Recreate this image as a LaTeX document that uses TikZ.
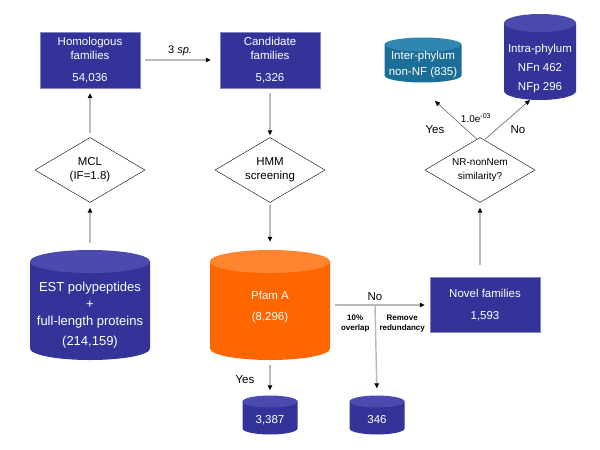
\documentclass[tikz,border=0pt]{standalone}
\usepackage{fontspec}
\setmainfont{Liberation Sans}
\usetikzlibrary{shapes.geometric, arrows.meta, positioning, calc}
\definecolor{famblue}{HTML}{333399}
\definecolor{famtop}{HTML}{4B4BAE}
\definecolor{pforange}{HTML}{FF6600}
\definecolor{pftop}{HTML}{FF8430}
\definecolor{teal1}{HTML}{1B6E98}
\definecolor{teal2}{HTML}{2F86B0}
\newcommand{\dbtext}[2]{\raisebox{#1}[0pt][0pt]{\begin{tabular}{@{}c@{}}#2\end{tabular}}} % lowers the text below the top of a cylinder
\tikzset{
    >={Triangle[length=5pt, width=4.5pt, color=black]}, % black arrow heads
    famstate/.style={draw=famblue!60!white, fill=famblue, text=white, align=center, inner sep=0pt}, % blue boxes
    check/.style={diamond, draw, aspect=1.7, inner sep=0pt, minimum width=110pt, minimum height=65pt, align=center}, % decisions
    db/.style n args={3}{ % databases: body colour, top colour, radius of the top
        rectangle, inner sep=0pt, text=white,
        path picture={
            \fill[#1] let \p1=(path picture bounding box.south west), \p2=(path picture bounding box.north east) in
                (\x1,{\y2-#3}) -- (\x1,{\y1+#3}) arc[start angle=180, end angle=360, x radius={(\x2-\x1)/2}, y radius=#3]
                -- (\x2,{\y2-#3}) -- cycle;
            \fill[#2] let \p1=(path picture bounding box.south west), \p2=(path picture bounding box.north east) in
                ({(\x1+\x2)/2},{\y2-#3}) ellipse[x radius={(\x2-\x1)/2}, y radius=#3];
        }},
    flow/.style={->, draw=gray!55, line width=1.4pt}, % grey connectors
    thinflow/.style={->, draw=gray!80!black, line width=0.6pt},
    note/.style={font=\fontsize{8}{10}\selectfont\bfseries, align=center},
}
\begin{document}
\begin{tikzpicture}[x=1pt, y=-1pt, font=\fontsize{11.5}{14}\selectfont]
    \useasboundingbox (0,0) rectangle (600,450);
    \node[famstate, minimum width=100pt, minimum height=56pt] (hom) at (90,60) {Homologous\\families\\[8pt]54,036};
    \node[famstate, minimum width=100pt, minimum height=56pt] (cand) at (270,60) {Candidate\\families\\[8pt]5,326};
    \node[check] (mcl) at (90,170) {MCL\\(IF=1.8)};
    \node[check] (hmm) at (270,170) {HMM\\screening};
    \node[db={famblue}{famtop}{11.5pt}, minimum width=120pt, minimum height=110pt, font=\fontsize{13}{17}\selectfont] (est) at (90,305) {\dbtext{-13pt}{EST polypeptides\\+\\full-length proteins\\[3pt](214,159)}};
    \node[db={pforange}{pftop}{11.5pt}, minimum width=120pt, minimum height=110pt] (pfam) at (270,305) {\dbtext{-5pt}{Pfam A\\[7pt](8,296)}};
    \node[famstate, minimum width=110pt, minimum height=55pt] (novel) at (485,305) {Novel families\\[8pt]1,593};
    \node[check, font=\fontsize{10}{14}\selectfont] (nr) at (480,170) {NR-nonNem\\similarity?};
    \node[db={famblue}{famtop}{6pt}, minimum width=55pt, minimum height=39pt] (found) at (270,415) {\dbtext{-9pt}{3,387}};
    \node[db={famblue}{famtop}{6pt}, minimum width=55pt, minimum height=39pt] (redund) at (377,415) {\dbtext{-9pt}{346}};
    \node[db={teal1}{teal2}{7pt}, minimum width=77pt, minimum height=45pt] (inter) at (423,60) {\dbtext{-8pt}{Inter-phylum\\[2pt]non-NF (835)}};
    \node[db={famblue}{famtop}{9pt}, minimum width=72pt, minimum height=86pt] (intra) at (540,57) {\dbtext{-15pt}{Intra-phylum\\[5pt]NFn 462\\[5pt]NFp 296}};
    \coordinate (split) at (375,305);
    \coordinate (yesend) at (435,101);
    \coordinate (noend) at (530,100);
    \draw[flow, shorten <=7pt, shorten >=5pt] (est.north) -- (mcl.south);
    \draw[flow, shorten <=4pt, shorten >=5pt] (mcl.north) -- (hom.south);
    \draw[flow, shorten <=5pt, shorten >=9pt] (hom.east) -- node[above, font=\fontsize{11}{13}\selectfont]{3 \textit{sp.}} (cand.west);
    \draw[flow, shorten <=5pt, shorten >=2pt] (cand.south) -- (hmm.north);
    \draw[flow, shorten <=2pt, shorten >=8pt] (hmm.south) -- (pfam.north);
    \draw[flow, shorten <=5pt, shorten >=5pt] (pfam.east) -- (novel.west);
    \node[above=1pt of split] (nolabel) {No};
    \draw[flow, shorten >=7pt] (split) -- (redund.north);
    \node[note, anchor=north east] (overlap) at (373,311) {10\%\\overlap};
    \node[note, anchor=north west] (remove) at (376,311) {Remove\\redundancy};
    \draw[flow, shorten <=5pt, shorten >=5pt] (pfam.south) -- (found.north);
    \node (yes1) at (245,380) {Yes};
    \draw[flow, shorten <=12pt, shorten >=5pt] (novel.north -| nr.south) -- (nr.south);
    \draw[thinflow] ([xshift=-3pt,yshift=-2pt]nr.north) -- (yesend);
    \draw[thinflow] ([xshift=5pt,yshift=-2pt]nr.north) -- (noend);
    \node[font=\fontsize{10}{12}\selectfont] (evalue) at (476,118) {1.0e\textsuperscript{-03}};
    \node (yes2) at (435,130) {Yes};
    \node (no2) at (518,130) {No};
\end{tikzpicture}
\end{document}
